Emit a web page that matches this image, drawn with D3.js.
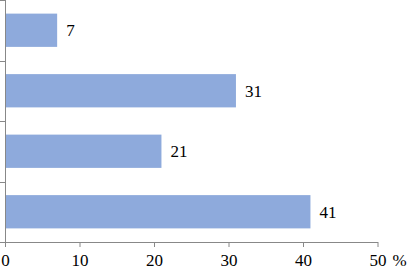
<!DOCTYPE html>
<html>
<head>
<meta charset="utf-8">
<script src="https://cdn.jsdelivr.net/npm/d3@7"></script>
<style>
  body { margin: 0; background: #fff; }
  text { font-family: "Liberation Serif", "Times New Roman", serif; }
</style>
</head>
<body>
<div id="chart"></div>
<script>
var categories = ["A", "B", "C", "D"];
var values = [7, 31, 21, 41];
var xTicks = [0, 10, 20, 30, 40, 50];

var margin = {top: 0, right: 30, bottom: 27, left: 5},
    width = 407 - margin.left - margin.right,
    height = 269 - margin.top - margin.bottom;

var svg = d3.select("#chart")
  .append("svg")
    .attr("width", 407)
    .attr("height", 269)
  .append("g")
    .attr("transform", "translate(" + margin.left + "," + margin.top + ")");

var x = d3.scaleLinear()
  .domain([0, 50])
  .range([0, 372.5]);

var y = d3.scaleBand()
  .domain(categories)
  .range([0, height])
  .paddingInner(0.45)
  .paddingOuter(0.225);

// bars
svg.selectAll("rect.bar")
  .data(values)
  .enter()
  .append("rect")
    .attr("class", "bar")
    .attr("x", x(0))
    .attr("y", function(d, i) { return y(categories[i]); })
    .attr("width", function(d) { return x(d) - x(0); })
    .attr("height", y.bandwidth())
    .attr("fill", "#8eaadc");

// value labels
svg.selectAll("text.val")
  .data(values)
  .enter()
  .append("text")
    .attr("class", "val")
    .attr("x", function(d) { return x(d) + 9; })
    .attr("y", function(d, i) { return y(categories[i]) + y.bandwidth() / 2; })
    .attr("dy", "0.35em")
    .style("font-size", "17px")
    .attr("fill", "#000")
    .text(function(d) { return d; });

// x axis
var xAxis = svg.append("g")
  .attr("transform", "translate(0," + height + ")")
  .call(d3.axisBottom(x).tickValues(xTicks).tickSize(5).tickPadding(7));
xAxis.select(".domain").attr("stroke", "#888").attr("d", "M0.5,0.5H" + (x(50) + 0.5));
xAxis.selectAll(".tick line").attr("stroke", "#888");
xAxis.selectAll(".tick text")
  .style("font-size", "17px")
  .attr("fill", "#000");

svg.append("text")
  .attr("x", x(50) + 15)
  .attr("y", height + 12)
  .attr("dy", "0.71em")
  .style("font-size", "17px")
  .attr("fill", "#000")
  .text("%");

// y axis: line with ticks at band boundaries
var bounds = d3.range(categories.length + 1).map(function(i) {
  return i * height / categories.length;
});
svg.append("line")
  .attr("x1", 0.5).attr("x2", 0.5)
  .attr("y1", 0).attr("y2", height)
  .attr("stroke", "#888");
svg.selectAll("line.ytick")
  .data(bounds)
  .enter()
  .append("line")
    .attr("class", "ytick")
    .attr("x1", -5).attr("x2", 0.5)
    .attr("y1", function(d) { return Math.round(d) + 0.5; })
    .attr("y2", function(d) { return Math.round(d) + 0.5; })
    .attr("stroke", "#888");
</script>
</body>
</html>
